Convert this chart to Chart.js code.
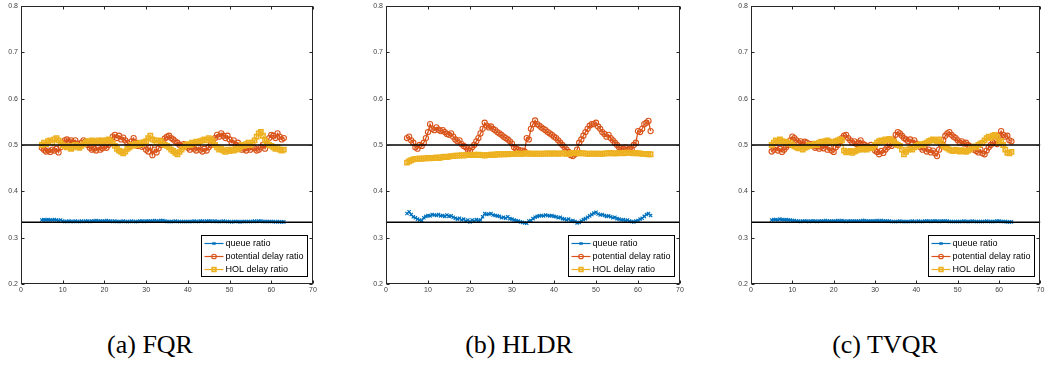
<!DOCTYPE html>
<html>
<head>
<meta charset="utf-8">
<script src="https://cdn.jsdelivr.net/npm/chart.js@4/dist/chart.umd.min.js"></script>
<style>
html, body { margin: 0; padding: 0; background: #fff; }
body { width: 1046px; height: 371px; position: relative; overflow: hidden; }
.panel { position: absolute; top: 0; height: 300px; }
.caption { position: absolute; top: 330px; line-height: 30px; font-family: 'Liberation Serif', 'DejaVu Serif', serif; font-size: 26px; color: #000; white-space: nowrap; transform: translateX(-50%); }
</style>
</head>
<body>
<div class="panel" style="left:0px;width:330px"><canvas id="fqrChart"></canvas></div>
<div class="panel" style="left:365px;width:330px"><canvas id="hldrChart"></canvas></div>
<div class="panel" style="left:730px;width:316px"><canvas id="tvqrChart"></canvas></div>
<div class="caption" style="left:150px">(a) FQR</div>
<div class="caption" style="left:519px">(b) HLDR</div>
<div class="caption" style="left:885px">(c) TVQR</div>
<script>
// time axis (one sample every 0.5)
const times = [
    5, 5.5, 6, 6.5, 7, 7.5, 8, 8.5, 9, 9.5,
    10, 10.5, 11, 11.5, 12, 12.5, 13, 13.5, 14, 14.5,
    15, 15.5, 16, 16.5, 17, 17.5, 18, 18.5, 19, 19.5,
    20, 20.5, 21, 21.5, 22, 22.5, 23, 23.5, 24, 24.5,
    25, 25.5, 26, 26.5, 27, 27.5, 28, 28.5, 29, 29.5,
    30, 30.5, 31, 31.5, 32, 32.5, 33, 33.5, 34, 34.5,
    35, 35.5, 36, 36.5, 37, 37.5, 38, 38.5, 39, 39.5,
    40, 40.5, 41, 41.5, 42, 42.5, 43, 43.5, 44, 44.5,
    45, 45.5, 46, 46.5, 47, 47.5, 48, 48.5, 49, 49.5,
    50, 50.5, 51, 51.5, 52, 52.5, 53, 53.5, 54, 54.5,
    55, 55.5, 56, 56.5, 57, 57.5, 58, 58.5, 59, 59.5,
    60, 60.5, 61, 61.5, 62, 62.5, 63
];

const xTicks = [0, 10, 20, 30, 40, 50, 60, 70];
const yTicks = [0.2, 0.3, 0.4, 0.5, 0.6, 0.7, 0.8];
const refLevels = [0.5, 0.3333];
const seriesNames = ['queue ratio', 'potential delay ratio', 'HOL delay ratio'];
const captions = ['(a) FQR', '(b) HLDR', '(c) TVQR'];

// (a) FQR
const fqrQueue = [
    0.338, 0.339, 0.338, 0.339, 0.338, 0.338, 0.339, 0.338, 0.337, 0.338,
    0.336, 0.335, 0.335, 0.336, 0.335, 0.335, 0.336, 0.335, 0.335, 0.336,
    0.335, 0.336, 0.336, 0.335, 0.336, 0.336, 0.337, 0.336, 0.336, 0.336,
    0.336, 0.337, 0.336, 0.336, 0.335, 0.336, 0.335, 0.335, 0.335, 0.336,
    0.335, 0.335, 0.335, 0.336, 0.335, 0.335, 0.335, 0.336, 0.336, 0.335,
    0.336, 0.336, 0.336, 0.336, 0.337, 0.336, 0.336, 0.337, 0.337, 0.336,
    0.335, 0.335, 0.335, 0.335, 0.336, 0.335, 0.335, 0.335, 0.335, 0.335,
    0.335, 0.335, 0.335, 0.336, 0.335, 0.335, 0.336, 0.336, 0.335, 0.336,
    0.336, 0.336, 0.335, 0.336, 0.335, 0.335, 0.335, 0.336, 0.335, 0.335,
    0.335, 0.334, 0.335, 0.335, 0.335, 0.334, 0.335, 0.335, 0.335, 0.335,
    0.335, 0.335, 0.336, 0.335, 0.336, 0.336, 0.335, 0.335, 0.335, 0.335,
    0.335, 0.335, 0.334, 0.335, 0.334, 0.334, 0.334
];
const fqrPotential = [
    0.494, 0.490, 0.486, 0.488, 0.485, 0.490, 0.488, 0.492, 0.484, 0.495,
    0.505, 0.510, 0.512, 0.508, 0.510, 0.505, 0.510, 0.503, 0.498, 0.505,
    0.510, 0.508, 0.500, 0.494, 0.490, 0.492, 0.488, 0.495, 0.490, 0.493,
    0.497, 0.494, 0.500, 0.510, 0.518, 0.522, 0.515, 0.520, 0.512, 0.516,
    0.510, 0.505, 0.498, 0.508, 0.515, 0.505, 0.498, 0.500, 0.496, 0.498,
    0.490, 0.486, 0.495, 0.478, 0.490, 0.484, 0.493, 0.500, 0.508, 0.514,
    0.518, 0.520, 0.515, 0.512, 0.508, 0.505, 0.500, 0.498, 0.502, 0.497,
    0.494, 0.490, 0.496, 0.492, 0.488, 0.495, 0.490, 0.486, 0.492, 0.488,
    0.495, 0.500, 0.510, 0.515, 0.522, 0.518, 0.525, 0.520, 0.515, 0.520,
    0.512, 0.505, 0.510, 0.500, 0.505, 0.495, 0.490, 0.492, 0.488, 0.494,
    0.490, 0.495, 0.493, 0.488, 0.490, 0.495, 0.500, 0.492, 0.505, 0.515,
    0.522, 0.520, 0.515, 0.525, 0.518, 0.512, 0.515
];
const fqrHol = [
    0.500, 0.505, 0.502, 0.508, 0.510, 0.505, 0.512, 0.515, 0.510, 0.505,
    0.500, 0.497, 0.495, 0.498, 0.492, 0.495, 0.500, 0.497, 0.494, 0.498,
    0.502, 0.505, 0.508, 0.505, 0.510, 0.507, 0.505, 0.510, 0.508, 0.510,
    0.506, 0.510, 0.512, 0.508, 0.504, 0.498, 0.492, 0.488, 0.485, 0.482,
    0.486, 0.492, 0.495, 0.500, 0.498, 0.503, 0.500, 0.505, 0.502, 0.506,
    0.508, 0.515, 0.520, 0.512, 0.510, 0.505, 0.510, 0.508, 0.503, 0.500,
    0.498, 0.495, 0.490, 0.487, 0.483, 0.480, 0.485, 0.490, 0.495, 0.500,
    0.502, 0.500, 0.505, 0.503, 0.507, 0.505, 0.508, 0.510, 0.512, 0.510,
    0.515, 0.512, 0.508, 0.500, 0.495, 0.490, 0.492, 0.488, 0.485, 0.490,
    0.487, 0.490, 0.488, 0.492, 0.490, 0.495, 0.500, 0.498, 0.502, 0.505,
    0.500, 0.505, 0.510, 0.518, 0.525, 0.528, 0.520, 0.510, 0.505, 0.500,
    0.498, 0.495, 0.492, 0.495, 0.490, 0.488, 0.490
];

// (b) HLDR
const hldrQueue = [
    0.352, 0.356, 0.350, 0.345, 0.343, 0.340, 0.338, 0.337, 0.343, 0.346,
    0.348, 0.347, 0.350, 0.349, 0.348, 0.350, 0.347, 0.348, 0.346, 0.349,
    0.346, 0.347, 0.344, 0.342, 0.340, 0.342, 0.338, 0.340, 0.336, 0.338,
    0.334, 0.338, 0.336, 0.339, 0.337, 0.338, 0.345, 0.352, 0.350, 0.351,
    0.352, 0.349, 0.348, 0.347, 0.346, 0.343, 0.344, 0.342, 0.345, 0.341,
    0.340, 0.338, 0.337, 0.336, 0.334, 0.333, 0.332, 0.331, 0.336, 0.337,
    0.341, 0.344, 0.346, 0.347, 0.348, 0.347, 0.349, 0.348, 0.347, 0.348,
    0.346, 0.345, 0.343, 0.344, 0.341, 0.340, 0.338, 0.340, 0.336, 0.337,
    0.335, 0.332, 0.333, 0.336, 0.339, 0.341, 0.344, 0.347, 0.350, 0.353,
    0.355, 0.351, 0.349, 0.350, 0.348, 0.346, 0.347, 0.345, 0.343, 0.344,
    0.341, 0.340, 0.338, 0.339, 0.337, 0.338, 0.336, 0.335, 0.334, 0.336,
    0.337, 0.340, 0.342, 0.346, 0.350, 0.352, 0.348
];
const hldrPotential = [
    0.515, 0.518, 0.510, 0.505, 0.495, 0.492, 0.500, 0.498, 0.505, 0.515,
    0.528, 0.545, 0.535, 0.532, 0.538, 0.533, 0.530, 0.532, 0.528, 0.524,
    0.522, 0.525, 0.518, 0.512, 0.508, 0.510, 0.502, 0.498, 0.495, 0.490,
    0.488, 0.495, 0.500, 0.508, 0.515, 0.525, 0.535, 0.548, 0.542, 0.538,
    0.540, 0.535, 0.532, 0.528, 0.525, 0.522, 0.518, 0.515, 0.512, 0.508,
    0.503, 0.495, 0.492, 0.490, 0.488, 0.488, 0.486, 0.515, 0.512, 0.535,
    0.545, 0.553, 0.545, 0.542, 0.538, 0.535, 0.532, 0.528, 0.525, 0.522,
    0.518, 0.515, 0.510, 0.505, 0.500, 0.495, 0.490, 0.485, 0.478, 0.476,
    0.480, 0.490, 0.505, 0.512, 0.520, 0.528, 0.535, 0.542, 0.545, 0.545,
    0.548, 0.540, 0.535, 0.528, 0.524, 0.518, 0.522, 0.515, 0.510, 0.505,
    0.500, 0.495, 0.490, 0.492, 0.495, 0.490, 0.492, 0.490, 0.500, 0.505,
    0.530, 0.528, 0.535, 0.545, 0.548, 0.552, 0.530
];
const hldrHol = [
    0.462, 0.465, 0.467, 0.469, 0.470, 0.470, 0.471, 0.470, 0.471, 0.471,
    0.472, 0.471, 0.472, 0.472, 0.473, 0.472, 0.473, 0.474, 0.475, 0.474,
    0.475, 0.476, 0.476, 0.477, 0.477, 0.477, 0.478, 0.477, 0.478, 0.478,
    0.478, 0.478, 0.479, 0.478, 0.479, 0.478, 0.478, 0.477, 0.478, 0.478,
    0.479, 0.479, 0.479, 0.480, 0.480, 0.480, 0.480, 0.481, 0.480, 0.481,
    0.481, 0.481, 0.481, 0.482, 0.481, 0.481, 0.482, 0.482, 0.481, 0.482,
    0.481, 0.481, 0.482, 0.481, 0.481, 0.482, 0.481, 0.482, 0.482, 0.481,
    0.482, 0.482, 0.481, 0.482, 0.482, 0.482, 0.481, 0.481, 0.482, 0.483,
    0.483, 0.482, 0.483, 0.482, 0.482, 0.482, 0.481, 0.481, 0.482, 0.481,
    0.481, 0.482, 0.481, 0.481, 0.482, 0.482, 0.482, 0.483, 0.482, 0.482,
    0.482, 0.483, 0.483, 0.482, 0.483, 0.484, 0.483, 0.483, 0.482, 0.483,
    0.482, 0.482, 0.481, 0.481, 0.481, 0.480, 0.480
];

// (c) TVQR
const tvqrQueue = [
    0.338, 0.339, 0.339, 0.338, 0.340, 0.339, 0.338, 0.339, 0.338, 0.338,
    0.337, 0.337, 0.336, 0.336, 0.335, 0.336, 0.336, 0.336, 0.335, 0.336,
    0.336, 0.336, 0.335, 0.336, 0.336, 0.336, 0.337, 0.336, 0.336, 0.336,
    0.336, 0.336, 0.337, 0.336, 0.337, 0.336, 0.335, 0.336, 0.336, 0.336,
    0.336, 0.336, 0.336, 0.336, 0.337, 0.337, 0.336, 0.336, 0.336, 0.336,
    0.336, 0.337, 0.336, 0.337, 0.336, 0.336, 0.336, 0.336, 0.335, 0.335,
    0.335, 0.335, 0.336, 0.335, 0.335, 0.335, 0.335, 0.335, 0.336, 0.335,
    0.335, 0.336, 0.335, 0.335, 0.336, 0.336, 0.336, 0.335, 0.336, 0.336,
    0.336, 0.335, 0.336, 0.336, 0.336, 0.336, 0.335, 0.335, 0.335, 0.335,
    0.335, 0.335, 0.335, 0.336, 0.335, 0.335, 0.335, 0.336, 0.335, 0.335,
    0.335, 0.335, 0.335, 0.335, 0.336, 0.335, 0.335, 0.335, 0.335, 0.336,
    0.336, 0.335, 0.335, 0.335, 0.334, 0.334, 0.334
];
const tvqrPotential = [
    0.486, 0.490, 0.495, 0.488, 0.492, 0.485, 0.490, 0.495, 0.500, 0.510,
    0.518, 0.515, 0.510, 0.505, 0.508, 0.503, 0.507, 0.505, 0.500, 0.502,
    0.498, 0.494, 0.497, 0.492, 0.496, 0.493, 0.500, 0.490, 0.494, 0.488,
    0.485, 0.495, 0.500, 0.508, 0.515, 0.520, 0.522, 0.515, 0.510, 0.505,
    0.508, 0.502, 0.505, 0.510, 0.503, 0.500, 0.497, 0.495, 0.500, 0.494,
    0.488, 0.485, 0.480, 0.487, 0.483, 0.490, 0.495, 0.500, 0.498, 0.510,
    0.522, 0.528, 0.525, 0.520, 0.515, 0.512, 0.508, 0.512, 0.505, 0.510,
    0.503, 0.500, 0.495, 0.490, 0.493, 0.486, 0.490, 0.484, 0.488, 0.482,
    0.476, 0.490, 0.500, 0.510, 0.520, 0.525, 0.528, 0.522, 0.518, 0.515,
    0.510, 0.505, 0.508, 0.503, 0.505, 0.500, 0.497, 0.495, 0.490, 0.487,
    0.484, 0.490, 0.482, 0.480, 0.488, 0.495, 0.500, 0.505, 0.508, 0.502,
    0.520, 0.530, 0.522, 0.518, 0.520, 0.510, 0.508
];
const tvqrHol = [
    0.500, 0.505, 0.510, 0.508, 0.512, 0.508, 0.505, 0.507, 0.503, 0.505,
    0.500, 0.497, 0.495, 0.493, 0.495, 0.490, 0.494, 0.496, 0.500, 0.498,
    0.500, 0.503, 0.500, 0.505, 0.507, 0.505, 0.508, 0.510, 0.507, 0.505,
    0.505, 0.508, 0.510, 0.512, 0.510, 0.488, 0.484, 0.485, 0.487, 0.483,
    0.486, 0.488, 0.490, 0.492, 0.490, 0.493, 0.490, 0.495, 0.493, 0.495,
    0.500, 0.505, 0.508, 0.510, 0.508, 0.512, 0.510, 0.513, 0.510, 0.507,
    0.503, 0.500, 0.498, 0.490, 0.480, 0.485, 0.490, 0.492, 0.490, 0.495,
    0.498, 0.500, 0.502, 0.500, 0.503, 0.505, 0.508, 0.510, 0.512, 0.510,
    0.508, 0.512, 0.505, 0.498, 0.495, 0.493, 0.490, 0.488, 0.487, 0.490,
    0.488, 0.486, 0.489, 0.487, 0.485, 0.488, 0.490, 0.495, 0.497, 0.495,
    0.500, 0.503, 0.505, 0.510, 0.515, 0.518, 0.515, 0.520, 0.522, 0.518,
    0.505, 0.508, 0.500, 0.490, 0.483, 0.482, 0.485
];

// MATLAB default colours
const queueColor = '#0072BD';
const potentialColor = '#D95319';
const holColor = '#EDB120';
const axisColor = '#262626';
const tickFont = { family: "'Liberation Sans', Arial, sans-serif", size: 7 };

function toPoints(vals) {
    return times.map((t, i) => ({ x: t, y: vals[i] }));
}

function seriesStyles() {
    return [
        { borderColor: queueColor, pointStyle: 'crossRot', pointRadius: 2.3, pointBorderWidth: 1.2 },
        { borderColor: potentialColor, pointStyle: 'circle', pointRadius: 2.6, pointBorderWidth: 1.1 },
        { borderColor: holColor, pointStyle: 'rect', pointRadius: 3, pointBorderWidth: 1.6 }
    ];
}

// box, inward ticks and the legend (MATLAB look)
const matlabFrame = {
    id: 'matlabFrame',
    afterDatasetsDraw(chart) {
        const { ctx, chartArea: a, scales: { x, y } } = chart;
        const L = Math.round(a.left) + 0.5, R = Math.round(a.right) - 0.5;
        const T = Math.round(a.top) + 0.5, B = Math.round(a.bottom) - 0.5;
        ctx.save();
        ctx.strokeStyle = axisColor;
        ctx.lineWidth = 1;
        ctx.strokeRect(L, T, R - L, B - T);
        ctx.beginPath();
        xTicks.forEach(v => {
            const px = Math.round(x.getPixelForValue(v)) + 0.5;
            ctx.moveTo(px, B); ctx.lineTo(px, B - 3);
            ctx.moveTo(px, T); ctx.lineTo(px, T + 3);
        });
        yTicks.forEach(v => {
            const py = Math.round(y.getPixelForValue(v)) + 0.5;
            ctx.moveTo(L, py); ctx.lineTo(L + 3, py);
            ctx.moveTo(R, py); ctx.lineTo(R - 3, py);
        });
        ctx.stroke();

        // legend box in the lower right corner
        ctx.font = "9px 'Liberation Sans', Arial, sans-serif";
        const textW = Math.max(...seriesNames.map(n => ctx.measureText(n).width));
        const boxW = Math.round(3 + 19 + 2 + textW + 4);
        const boxH = 41;
        const bx = Math.round(R - 6 - boxW) + 0.5;
        const by = Math.round(B - 8 - boxH) + 0.5;
        ctx.fillStyle = '#fff';
        ctx.fillRect(bx, by, boxW, boxH);
        ctx.strokeStyle = '#000';
        ctx.strokeRect(bx, by, boxW, boxH);
        const styles = seriesStyles();
        seriesNames.forEach((name, i) => {
            const ry = by + 8 + i * 13;
            const st = styles[i];
            ctx.strokeStyle = st.borderColor;
            ctx.lineWidth = 1.2;
            ctx.beginPath();
            ctx.moveTo(bx + 3, ry);
            ctx.lineTo(bx + 22, ry);
            ctx.stroke();
            ctx.fillStyle = 'rgba(0,0,0,0)';
            ctx.lineWidth = st.pointBorderWidth;
            Chart.helpers.drawPoint(ctx, { pointStyle: st.pointStyle, radius: st.pointRadius - 0.3, rotation: 0, borderWidth: st.pointBorderWidth }, bx + 12.5, ry);
            ctx.fillStyle = '#000';
            ctx.textBaseline = 'middle';
            ctx.textAlign = 'left';
            ctx.fillText(name, bx + 24, ry + 0.5);
        });
        ctx.restore();
    }
};

function makePanel(canvasId, queue, potential, hol, rightPad) {
    const styles = seriesStyles();
    const series = [queue, potential, hol];
    const datasets = [];
    // reference levels drawn on top (order 0)
    refLevels.forEach(level => {
        datasets.push({
            data: [{ x: 0, y: level }, { x: 70, y: level }],
            borderColor: '#000',
            borderWidth: 1.4,
            pointRadius: 0,
            order: 0
        });
    });
    series.forEach((vals, i) => {
        datasets.push({
            label: seriesNames[i],
            data: toPoints(vals),
            borderColor: styles[i].borderColor,
            backgroundColor: 'rgba(0,0,0,0)',
            borderWidth: 1.3,
            pointStyle: styles[i].pointStyle,
            pointRadius: styles[i].pointRadius,
            pointBorderWidth: styles[i].pointBorderWidth,
            pointBackgroundColor: 'rgba(0,0,0,0)',
            pointBorderColor: styles[i].borderColor,
            order: 3 - i
        });
    });

    return new Chart(document.getElementById(canvasId), {
        type: 'line',
        data: { datasets },
        options: {
            responsive: true,
            maintainAspectRatio: false,
            animation: false,
            layout: { padding: { top: 6, right: rightPad, left: 0, bottom: 0 } },
            plugins: { legend: { display: false }, tooltip: { enabled: false } },
            scales: {
                x: {
                    type: 'linear',
                    min: 0, max: 70,
                    grid: { display: false, drawTicks: false },
                    border: { display: false },
                    ticks: { stepSize: 10, font: tickFont, color: '#404040', padding: 2, maxRotation: 0 },
                    afterFit: s => { s.height = 16; s.paddingLeft = 0; s.paddingRight = 0; }
                },
                y: {
                    min: 0.2, max: 0.8,
                    grid: { display: false, drawTicks: false },
                    border: { display: false },
                    ticks: { stepSize: 0.1, font: tickFont, color: '#404040', padding: 3, callback: v => v.toFixed(1) },
                    afterFit: s => { s.width = 21; s.paddingTop = 0; s.paddingBottom = 0; }
                }
            }
        },
        plugins: [matlabFrame]
    });
}

const fqrChart = makePanel('fqrChart', fqrQueue, fqrPotential, fqrHol, 17);
const hldrChart = makePanel('hldrChart', hldrQueue, hldrPotential, hldrHol, 15);
const tvqrChart = makePanel('tvqrChart', tvqrQueue, tvqrPotential, tvqrHol, 1);
</script>
</body>
</html>
